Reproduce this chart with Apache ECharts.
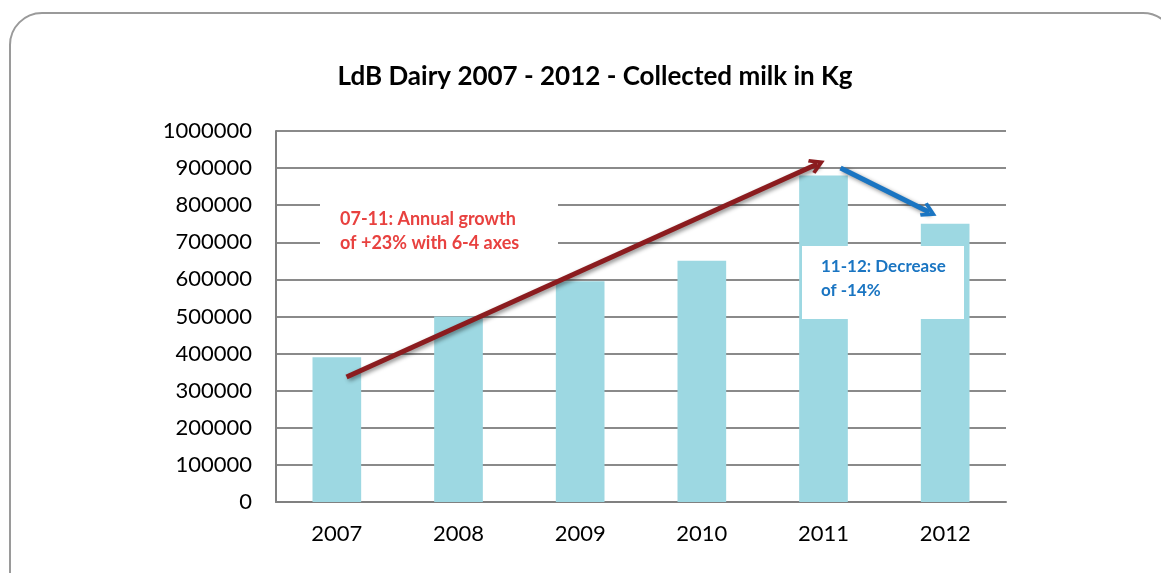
<!DOCTYPE html>
<html>
<head>
<meta charset="utf-8">
<script src="https://cdn.jsdelivr.net/npm/echarts@6/dist/echarts.min.js"></script>
<style>
html,body{margin:0;padding:0;background:#fff;}
#chart{width:1161px;height:573px;}
</style>
</head>
<body>
<div id="chart"></div>
<script>
const categories = ['2007', '2008', '2009', '2010', '2011', '2012'];
const milkKg = [390000, 500000, 595000, 650000, 880000, 750000];
const yMin = 0, yMax = 1000000, yStep = 100000;
const titleText = 'LdB Dairy 2007 - 2012 - Collected milk in Kg';
// arrow end points in (category position, kg); category i centre = i + 0.5
const growthArrow = [[0.58, 337000], [4.45, 911000]];
const decreaseArrow = [[4.64, 900000], [5.37, 781000]];
const growthNote = ['07-11: Annual growth', 'of +23% with 6-4 axes'];
const decreaseNote = ['11-12: Decrease', 'of -14%'];

const FONT = 'Lato, "Open Sans", sans-serif';
const CHEVRON = 'path://M0,12 L10,0 L20,12 L16.5,14 L10,6.5 L3.5,14 Z';
const chart = echarts.init(document.getElementById('chart'), null, {renderer: 'canvas'});

const option = {
  animation: false,
  backgroundColor: '#fff',
  title: {
    text: titleText,
    left: 590, top: 59, textAlign: 'center',
    textStyle: {fontFamily: FONT, fontWeight: 'bold', fontSize: 26, color: '#000'}
  },
  grid: {left: 276, right: 155, top: 131, bottom: 71},
  xAxis: [{
    type: 'category', data: categories,
    axisLine: {lineStyle: {color: '#808080', width: 2}},
    axisTick: {show: false},
    axisLabel: {fontFamily: FONT, fontSize: 22, color: '#000', margin: 21}
  }, {
    type: 'value', min: 0, max: categories.length, show: false
  }],
  yAxis: {
    type: 'value', min: yMin, max: yMax, interval: yStep,
    axisLine: {show: true, lineStyle: {color: '#808080', width: 2}},
    axisTick: {show: false},
    splitLine: {lineStyle: {color: '#8a8a8a', width: 2}},
    axisLabel: {fontFamily: FONT, fontSize: 22, color: '#000', margin: 24,
      formatter: v => String(v)}
  },
  series: [{
    type: 'bar', data: milkKg, barWidth: '40%',
    itemStyle: {color: '#9dd8e2'}, z: 2
  }, {
    type: 'lines', coordinateSystem: 'cartesian2d', xAxisIndex: 1, yAxisIndex: 0,
    symbol: ['none', CHEVRON], symbolSize: [22, 16], z: 10,
    lineStyle: {color: '#8b1c1f', width: 5, opacity: 1,
      shadowBlur: 4, shadowColor: 'rgba(0,0,0,0.45)', shadowOffsetX: 2, shadowOffsetY: 2},
    data: [{coords: growthArrow}]
  }, {
    type: 'lines', coordinateSystem: 'cartesian2d', xAxisIndex: 1, yAxisIndex: 0,
    symbol: ['none', CHEVRON], symbolSize: [22, 16], z: 10,
    lineStyle: {color: '#1a75c2', width: 5, opacity: 1,
      shadowBlur: 4, shadowColor: 'rgba(0,0,0,0.45)', shadowOffsetX: 2, shadowOffsetY: 2},
    data: [{coords: decreaseArrow}]
  }],
  graphic: [
    {type: 'rect', z: -10, silent: true,
      shape: {x: 10, y: 13, width: 1165, height: 600, r: 32},
      style: {fill: 'none', stroke: '#9a9a9a', lineWidth: 2}},
    {type: 'rect', z: 50, shape: {x: 320, y: 196, width: 238, height: 80},
      style: {fill: '#fff'}},
    {type: 'text', z: 51, left: 340, top: 207,
      style: {text: growthNote.join('\n'), fill: '#e8413f', fontFamily: FONT,
        fontWeight: 'bold', fontSize: 18, lineHeight: 24}},
    {type: 'rect', z: 50, shape: {x: 802, y: 246, width: 162, height: 73},
      style: {fill: '#fff'}},
    {type: 'text', z: 51, left: 821, top: 255,
      style: {text: decreaseNote.join('\n'), fill: '#1a75c2', fontFamily: FONT,
        fontWeight: 'bold', fontSize: 17, lineHeight: 24}}
  ]
};
chart.setOption(option);
</script>
</body>
</html>
